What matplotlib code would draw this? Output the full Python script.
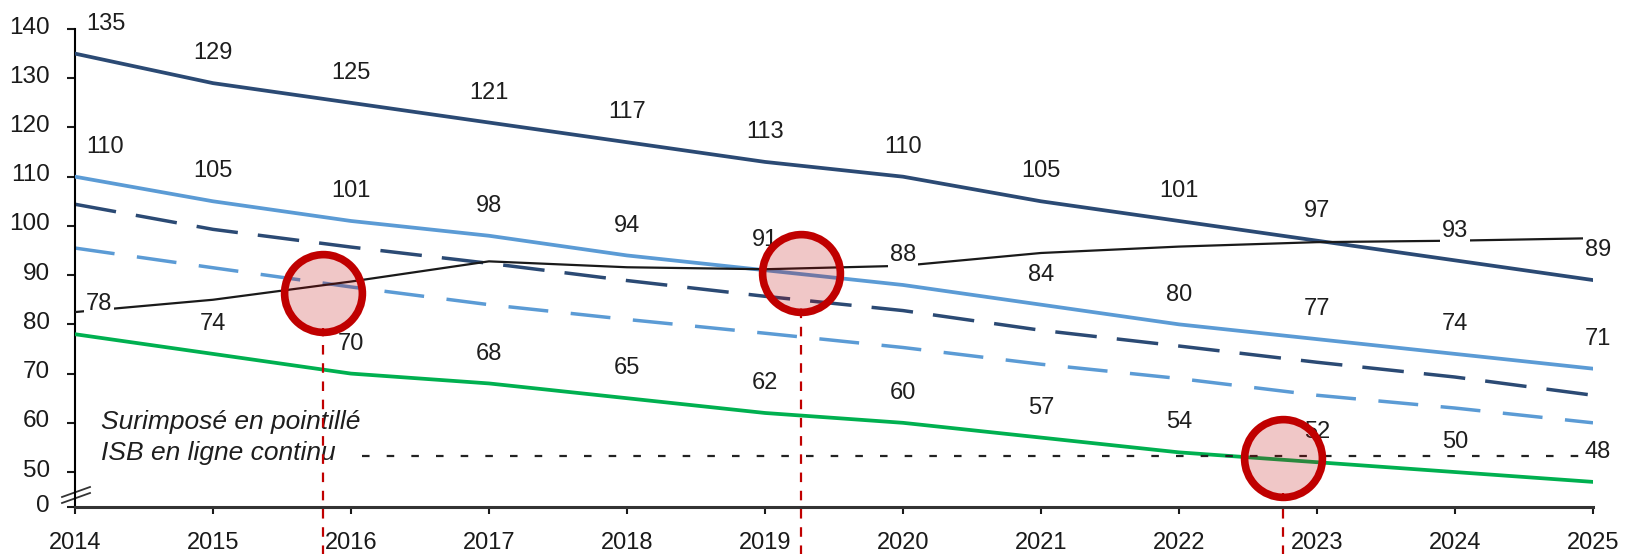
import matplotlib
matplotlib.use("Agg")
import matplotlib.pyplot as plt
from matplotlib.transforms import ScaledTranslation

plt.rcParams['font.family'] = ['Liberation Sans', 'DejaVu Sans']

years = list(range(2014, 2026))

# series values per year
navy_solid = [135, 129, 125, 121, 117, 113, 110, 105, 101, 97, 93, 89]
blue_solid = [110, 105, 101, 98, 94, 91, 88, 84, 80, 77, 74, 71]
green_solid = [78, 74, 70, 68, 65, 62, 60, 57, 54, 52, 50, 48]
navy_dashed = [104.4, 99.3, 95.7, 92.4, 88.9, 85.7, 82.8, 78.8, 75.6, 72.3, 69.3, 65.6]
blue_dashed = [95.5, 91.5, 87.6, 84.0, 81.0, 78.2, 75.3, 71.9, 69.0, 65.6, 63.0, 60.0]
isb_line = [82.5, 85.0, 88.7, 92.8, 91.6, 91.2, 91.9, 94.5, 95.8, 96.7, 97.0, 97.5]
isb_level = 53.2

# crossing points highlighted with circles
cross_years = [2015.8, 2019.26, 2022.75]
cross_values = [86.3, 90.4, 52.8]

ytick_values = [50, 60, 70, 80, 90, 100, 110, 120, 130, 140]

NAVY = '#2b4a74'
BLUE = '#5b9bd5'
GREEN = '#00b050'
RED = '#c00000'
TXT = '#1e1e1e'

fig = plt.figure(figsize=(16.3, 5.54), dpi=100)
ax = fig.add_axes([75/1630, 1 - 507/554, (1593 - 75)/1630, (507 - 29)/554])

ybot = 42.9
ax.set_xlim(2014, 2025)
ax.set_ylim(ybot, 140)

ax.plot(years, navy_dashed, color=NAVY, lw=2.5, dashes=(12, 5.8), zorder=2)
ax.plot(years, blue_dashed, color=BLUE, lw=2.5, dashes=(11.5, 6.5), zorder=2)
ax.plot(years, navy_solid, color=NAVY, lw=2.7, zorder=3)
ax.plot(years, blue_solid, color=BLUE, lw=2.7, zorder=3)
ax.plot(years, green_solid, color=GREEN, lw=2.7, zorder=3)
ax.plot(years, isb_line, color='#1a1a1a', lw=1.6, zorder=4)
ax.hlines(isb_level, 2016.08, 2025, color='#222222', lw=1.6,
          linestyles=(0, (3.4, 7.7)), zorder=4)

# value labels above each solid series
def put_labels(values):
    for i, (x, v) in enumerate(zip(years, values)):
        if i == 0:
            dx, ha = 8, 'left'
        elif i == len(values) - 1:
            dx, ha = -6, 'left'
        else:
            dx, ha = 0, 'center'
        ax.annotate(f"{v:.0f}", (x, v), xytext=(dx, 21.5), textcoords='offset points',
                    ha=ha, va='center', fontsize=17, color=TXT, zorder=5,
                    bbox=dict(boxstyle='square,pad=0.08', fc='white', ec='none'))

put_labels(navy_solid)
put_labels(blue_solid)
put_labels(green_solid)

# red circles and dashed drop lines
drop_bottom = ybot - 48 / 4.92
for cx, cy in zip(cross_years, cross_values):
    ax.plot([cx, cx], [drop_bottom, cy - 7], color=RED, lw=1.6,
            dashes=(4.3, 3.9), clip_on=False, zorder=6)
ax.plot(cross_years, cross_values, 'o', ms=56, mfc=(0.75, 0, 0, 0.22),
        mec=RED, mew=5.5, zorder=7, clip_on=False)

ax.text(2014.19, 60.1, "Surimposé en pointillé", style='italic', fontsize=19,
        color=TXT, va='center', ha='left')
ax.text(2014.19, 53.8, "ISB en ligne continu", style='italic', fontsize=19,
        color=TXT, va='center', ha='left')

# axes styling
for s in ['top', 'right']:
    ax.spines[s].set_visible(False)
ax.spines['left'].set_linewidth(1.5)
ax.spines['bottom'].set_linewidth(2.2)
ax.spines['bottom'].set_color('#333333')

ax.set_xticks(years)
ax.set_xticklabels([str(y) for y in years])
ax.set_yticks([ybot] + ytick_values)
ax.set_yticklabels(["0"] + [str(v) for v in ytick_values])
ax.tick_params(axis='y', direction='out', length=6, width=1.5, pad=12,
               labelsize=17.5, colors='#1a1a1a')
ax.tick_params(axis='x', direction='out', length=5, width=1.5, pad=13,
               labelsize=17, colors='#1a1a1a')
for lab in ax.get_yticklabels():
    lab.set_transform(lab.get_transform() + ScaledTranslation(0, 0.04, fig.dpi_scale_trans))

# axis break marks
for off in (0, 6):
    ax.plot([-13/1518, 15/1518], [(507 - 497 - off) / 478, (507 - 487 - off) / 478],
            transform=ax.transAxes, color='#333333', lw=1.3, clip_on=False)

plt.savefig('out.png', dpi=100)
